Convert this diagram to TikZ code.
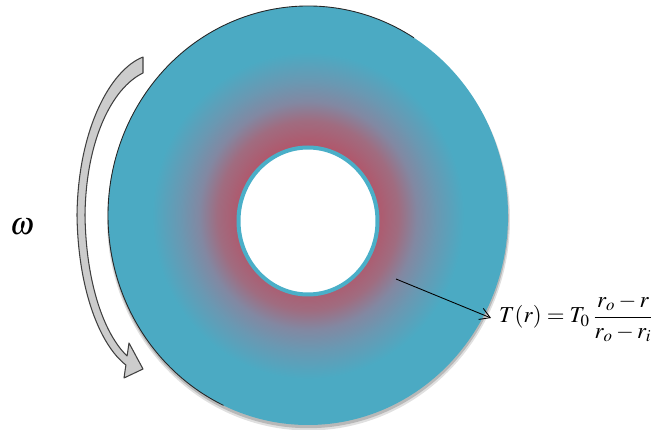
\documentclass[tikz,border=0pt]{standalone}
\usepackage{amsmath, amssymb}
\usepackage{mathptmx}
\usepackage{tikz}
\usetikzlibrary{arrows.meta, positioning, calc}
\definecolor{diskcyan}{HTML}{4BAAC3}
\definecolor{diskred}{HTML}{B0586C}
\definecolor{diskmauve}{HTML}{A06C80}
\definecolor{diskgrey}{HTML}{8288A2}
\definecolor{diskslate}{HTML}{6A98B2}
\definecolor{ringcyan}{HTML}{4AAFC8}
\pgfdeclareradialshading{diskheat}{\pgfpoint{0bp}{0bp}}{%
  color(0bp)=(diskred); color(8.5bp)=(diskred); color(11.3bp)=(diskmauve);
  color(13.6bp)=(diskgrey); color(16bp)=(diskslate); color(19.5bp)=(diskcyan);
  color(50bp)=(diskcyan)}
\tikzset{
  disk/.style={shading=diskheat},
  hole/.style={draw=ringcyan, fill=white, line width=0.08cm},
  rotarrow/.style={draw=black!75, fill=gray!40, line width=0.6pt, line join=round},
  probe/.style={-{Straight Barb[length=2mm,width=2.4mm]}, line width=0.5pt},
  lbl/.style={inner sep=1pt}
}
\begin{document}
\begin{tikzpicture}[x=0.02cm, y=0.02cm]
    \useasboundingbox (0,0) rectangle (657,430);
    % disk with soft shadow
    \fill[black, opacity=0.12] (308.5,210.5) ellipse [x radius=201.5, y radius=211];
    \fill[black, opacity=0.18] (308.3,211.8) ellipse [x radius=200.5, y radius=210];
    \shade[disk] (308,214.5) ellipse [x radius=200, y radius=209.5];
    \draw[black!85, line width=0.5pt] (308,214.5) ++(58:200 and 209.5)
      arc[start angle=58, end angle=245, x radius=200, y radius=209.5];
    \draw[hole] (308,209) ellipse [x radius=69.5, y radius=73.5];
    % rotation
    \draw[rotarrow] (143,373) .. controls (110,360) and (78,300) .. (77,215)
      .. controls (78,140) and (100,85) .. (125.9,65) -- (124,52) -- (143,61)
      -- (129,87) -- (127.1,74) .. controls (105,95) and (86,145) .. (85,215)
      .. controls (86,290) and (112,342) .. (143,357) -- cycle;
    \node[lbl, font=\fontsize{18}{22}\selectfont] (omega) at (22,203) {$\omega$};
    % temperature profile
    \coordinate (probe) at (396,151);
    \node[lbl, anchor=west, font=\fontsize{13}{16}\selectfont] (formula) at (497,112)
      {$\displaystyle T(r) = T_0\,\frac{r_o - r}{r_o - r_i}$};
    \draw[probe] (probe) -- ($(formula.west)+(-6,0)$);
  \end{tikzpicture}
\end{document}
